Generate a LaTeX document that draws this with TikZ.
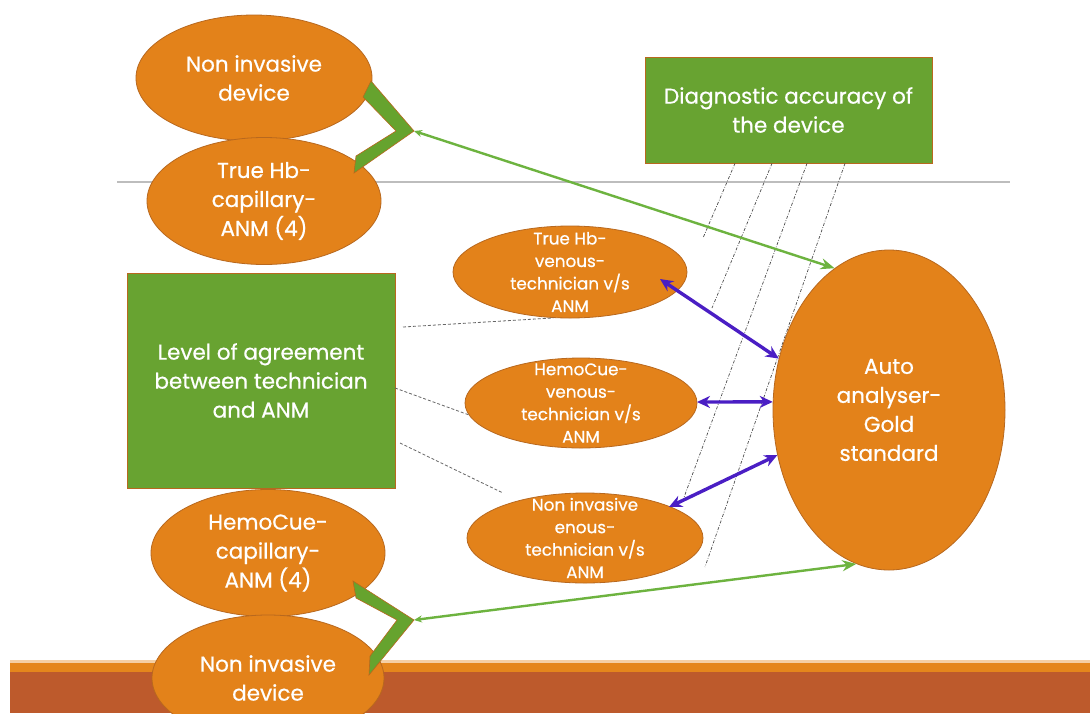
\documentclass[tikz,border=0pt]{standalone}
\usepackage{fontspec}
\setmainfont{Poppins}
\newfontfamily\lblfont{Poppins}[FakeBold=0.6]
\usetikzlibrary{shapes.geometric,arrows.meta,calc}
\definecolor{orng}{HTML}{E3821A}
\definecolor{orngline}{HTML}{B8681E}
\definecolor{boxgreen}{HTML}{68A331}
\definecolor{arrgreen}{HTML}{6DB33F}
\definecolor{chevgreen}{HTML}{66A32E}
\definecolor{arrblue}{HTML}{4A1EC4}
\definecolor{rule}{HTML}{BDBDBD}
\definecolor{barorange}{HTML}{E5861C}
\definecolor{barbrown}{HTML}{BD5A2C}
\newcommand\bigtxt{\lblfont\fontsize{21.5}{29}\selectfont}
\newcommand\smalltxt{\lblfont\fontsize{16.8}{22.5}\selectfont}
\tikzset{
  ell/.style={ellipse, draw=orngline, line width=0.8pt, fill=orng, inner sep=0pt},
  lbl/.style={text=white, align=center, font=\bigtxt, inner sep=0pt},
  slbl/.style={text=white, align=center, font=\smalltxt, inner sep=0pt},
  gbox/.style={rectangle, draw=orngline, line width=0.8pt, fill=boxgreen, text=white, align=center, font=\bigtxt, inner sep=0pt},
  chev/.style={fill=chevgreen, draw=orngline, line width=0.6pt, line join=miter},
  garrow/.style={draw=arrgreen, line width=2.4pt, {Stealth[length=8pt,width=7pt]}-{Stealth[length=14pt,width=11pt]}},
  barrow/.style={draw=arrblue, line width=3.4pt, {Stealth[length=13pt,width=12pt]}-{Stealth[length=13pt,width=12pt]}},
  dashlink/.style={draw=gray!80!black, line width=0.8pt, dash pattern=on 3pt off 2pt},
  dotlink/.style={draw=gray!60!black, line width=0.7pt, dash pattern=on 3pt off 1.6pt on 0.8pt off 1.6pt},
}
\begin{document}
\begin{tikzpicture}[x=1pt,y=-1pt]
\useasboundingbox[fill=white] (0,0) rectangle (1090,713);

% footer band
\fill[barorange!40] (10,660) rectangle (1090,664);
\fill[barorange] (10,663) rectangle (1090,672);
\fill[barbrown] (10,672) rectangle (1090,713);

% horizontal rule
\coordinate (ruleL) at (117,182);
\coordinate (ruleR) at (1010,182);
\draw[rule, line width=1.2pt] (ruleL) -- (ruleR);

% boxes
\node[gbox, minimum width=287, minimum height=106] (diag) at (788.5,110) {Diagnostic accuracy of\\the device};
\node[gbox, minimum width=268, minimum height=215] (agree) at (261,380.5) {Level of agreement\\between technician\\and ANM};

% dash-dot guides hanging from the accuracy box
\coordinate (d1) at (703,238);
\coordinate (d2) at (712,308);
\coordinate (d3) at (683,500);
\coordinate (d4) at (705,567);
\draw[dotlink] (diag.south -| 735,0) -- (d1);
\draw[dotlink] (diag.south -| 772,0) -- (d2);
\draw[dotlink] (diag.south -| 807,0) -- (d3);
\draw[dotlink] (diag.south -| 845,0) -- (d4);

% left-hand ellipses
\node[ell, minimum width=236, minimum height=126, label={[lbl]center:{Non invasive\\device}}] (ni1) at (254,78) {};
\node[ell, minimum width=234, minimum height=127, label={[lbl]center:{True Hb-\\capillary-\\ANM (4)}}] (thb) at (264,201) {};
\node[ell, minimum width=234, minimum height=127, label={[lbl]center:{HemoCue-\\capillary-\\ANM (4)}}] (hcc) at (268,553) {};
\node[ell, minimum width=232, minimum height=126, label={[lbl]center:{Non invasive\\device}}] (ni2) at (268,678) {};

% comparison ellipses
\node[ell, minimum width=234, minimum height=92, label={[slbl]center:{True Hb-\\venous-\\technician v/s\\ANM}}] (tv) at (570,272) {};
\node[ell, minimum width=232, minimum height=90, label={[slbl]center:{HemoCue-\\venous-\\technician v/s\\ANM}}] (hv) at (581,403) {};
\node[ell, minimum width=236, minimum height=90, label={[slbl]center:{Non invasive\\enous-\\technician v/s\\ANM}}] (nv) at (585,538) {};

% reference standard
\node[ell, minimum width=232, minimum height=320, label={[lbl]center:{Auto\\analyser-\\Gold\\standard}}] (auto) at (889,410) {};

% dashed links from the agreement box
\coordinate (a1) at (403,327);
\coordinate (a2) at (395,388);
\coordinate (a3) at (400,443);
\coordinate (n3) at (503,493);
\draw[dashlink] (a1) -- (tv.250);
\draw[dashlink] (a2) -- (hv.186);
\draw[dashlink] (a3) -- (n3);

% chevrons grouping the paired devices
\coordinate (c1) at (414,131);
\coordinate (c2) at (414,620);
\filldraw[chev] (371,81) -- (c1) -- (354,173) -- (356,156) -- (396,131) -- (363,97) -- cycle;
\filldraw[chev] (353,581) -- (c2) -- (369,675) -- (370,656) -- (397,620) -- (356,598) -- cycle;

% green links to the gold standard
\draw[garrow] (c1) -- (auto.111);
\draw[garrow] (c2) -- (auto.258);

% blue comparison arrows
\coordinate (b1) at (660,279);
\coordinate (b2) at (697,402);
\coordinate (b3) at (669,507);
\draw[barrow] (b1) -- (auto.155);
\draw[barrow] (b2) -- (auto.176);
\draw[barrow] (b3) -- (auto.202);
\end{tikzpicture}
\end{document}
